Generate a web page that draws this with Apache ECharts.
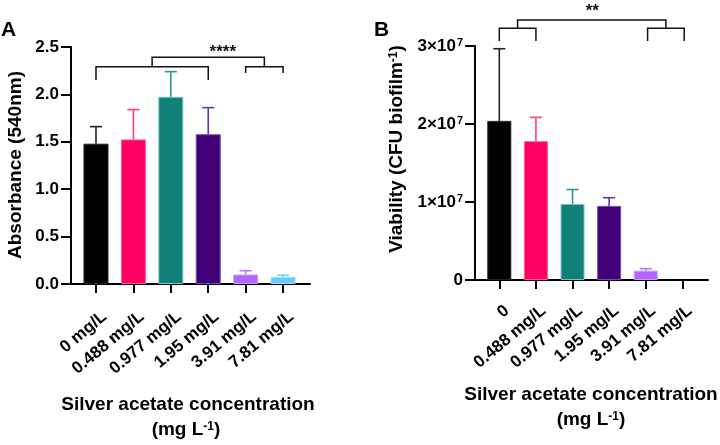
<!DOCTYPE html>
<html>
<head>
<meta charset="utf-8">
<script src="https://cdn.jsdelivr.net/npm/echarts@6/dist/echarts.min.js"></script>
<style>
  html, body { margin: 0; padding: 0; background: #fff; }
  #chart { width: 720px; height: 445px; }
</style>
</head>
<body>
<div id="chart"></div>
<script>
// categories
const catsA = ['0 mg/L', '0.488 mg/L', '0.977 mg/L', '1.95 mg/L', '3.91 mg/L', '7.81 mg/L']
const catsB = ['0', '0.488 mg/L', '0.977 mg/L', '1.95 mg/L', '3.91 mg/L', '7.81 mg/L']

// panel A: absorbance (540nm), mean and upper SD
const absMean = [1.48, 1.525, 1.975, 1.58, 0.10, 0.075]
const absSd = [0.18, 0.315, 0.265, 0.28, 0.04, 0.018]

// panel B: viability (CFU per biofilm)
const cfuMean = [2.04e7, 1.78e7, 0.975e7, 0.95e7, 0.12e7, 0]
const cfuSd = [0.925e7, 0.305e7, 0.185e7, 0.105e7, 0.025e7, 0]

// significance brackets: [x1, x2, top, leg1 bottom, leg2 bottom]
const bracketsA = [[0, 3, 2.292, 2.152, 2.152], [4, 5, 2.292, 2.226, 2.226], [1.5, 4.5, 2.391, 2.292, 2.292]]
const starsA = [[3.39, 2.44, '****']]
const bracketsB = [[0, 1, 3.227e7, 3.064e7, 3.064e7], [4.05, 5.05, 3.227e7, 3.064e7, 3.064e7], [0.5, 4.55, 3.333e7, 3.227e7, 3.227e7]]
const starsB = [[2.54, 3.45e7, '**']]

const tickPos = [0, 1, 2, 3, 4, 5]

const colors = ['#000000', '#ff0066', '#118079', '#420078', '#b266ff', '#66ccff']
const edges = ['#222222', '#ff5c99', '#7cc4bf', '#7a4cb0', '#c99cff', '#9bdcff']
const errColors = ['#222222', '#ff3d86', '#2c9690', '#6633a0', '#b57aff', '#7fd0ff']

const font = "'Liberation Sans', Arial, sans-serif"

const chart = echarts.init(document.getElementById('chart'))

function barData (vals) {
  return vals.map((v, i) => ({
    value: [i, v],
    itemStyle: { color: colors[i], borderColor: edges[i], borderWidth: v > 0 ? 1 : 0 }
  }))
}

function errData (mean, sd) {
  return mean.map((m, i) => [i, m, m + sd[i]])
}

function renderErr (params, api) {
  const i = api.value(0)
  const base = api.coord([i, api.value(1)])
  const top = api.coord([i, api.value(2)])
  if (base[1] - top[1] < 0.5) return null
  const c = errColors[i]
  const style = { stroke: c, lineWidth: 1.6, fill: null }
  return {
    type: 'group',
    children: [
      { type: 'line', shape: { x1: base[0], y1: base[1], x2: top[0], y2: top[1] }, style },
      { type: 'line', shape: { x1: top[0] - 6, y1: top[1], x2: top[0] + 6, y2: top[1] }, style }
    ]
  }
}

function renderBracket (params, api) {
  const a = api.coord([api.value(0), api.value(3)])
  const b = api.coord([api.value(0), api.value(2)])
  const c = api.coord([api.value(1), api.value(2)])
  const d = api.coord([api.value(1), api.value(4)])
  return {
    type: 'polyline',
    shape: { points: [a, b, c, d] },
    style: { stroke: '#111', lineWidth: 1.5, fill: null }
  }
}

function renderStars (params, api) {
  const p = api.coord([api.value(0), api.value(1)])
  return {
    type: 'text',
    x: p[0],
    y: p[1],
    style: {
      text: api.value(2),
      fontSize: 17,
      fontWeight: 'bold',
      fontFamily: font,
      fill: '#111',
      align: 'center',
      verticalAlign: 'middle'
    }
  }
}

function xAxisOf (grid, cats, min, max, shift, margin) {
  return {
    type: 'value',
    gridIndex: grid,
    min: min,
    max: max,
    splitLine: { show: false },
    axisLine: { show: true, onZero: false, lineStyle: { color: '#000', width: 2 } },
    axisTick: { show: true, customValues: tickPos, length: 9, lineStyle: { color: '#000', width: 2 } },
    axisLabel: {
      show: true,
      customValues: tickPos.map(t => t + shift),
      formatter: v => cats[Math.round(v - shift)],
      rotate: 40,
      align: 'right',
      verticalAlign: 'top',
      margin: margin,
      fontSize: 17,
      fontWeight: 'bold',
      fontFamily: font,
      color: '#000'
    }
  }
}

const yCommon = {
  type: 'value',
  splitLine: { show: false },
  axisLine: { show: true, onZero: false, lineStyle: { color: '#000', width: 2 } },
  axisTick: { show: true, length: 10, lineStyle: { color: '#000', width: 2 } }
}

const option = {
  animation: false,
  backgroundColor: '#fff',
  grid: [
    { left: 71, top: 47, width: 239, height: 237 },
    { left: 475, top: 46, width: 233, height: 234 }
  ],
  xAxis: [
    xAxisOf(0, catsA, -0.668, 5.72, 0.08, 24),
    xAxisOf(1, catsB, -0.664, 5.70, 0.06, 22)
  ],
  yAxis: [
    Object.assign({}, yCommon, {
      gridIndex: 0, min: 0, max: 2.5, interval: 0.5,
      axisLabel: {
        margin: 12, fontSize: 17, fontWeight: 'bold', fontFamily: font, color: '#000',
        formatter: v => v.toFixed(1)
      }
    }),
    Object.assign({}, yCommon, {
      gridIndex: 1, min: 0, max: 3e7, interval: 1e7,
      axisLabel: {
        margin: 12, fontSize: 17, fontWeight: 'bold', fontFamily: font, color: '#000',
        formatter: v => v === 0 ? '0' : (v / 1e7) + '×10{sup|7}',
        rich: {
          sup: { fontSize: 11, fontWeight: 'bold', fontFamily: font, color: '#000', verticalAlign: 'top', padding: [0, 0, 6, 1] }
        }
      }
    })
  ],
  series: [
    { type: 'bar', xAxisIndex: 0, yAxisIndex: 0, barWidth: 25, data: barData(absMean) },
    { type: 'custom', xAxisIndex: 0, yAxisIndex: 0, clip: false, renderItem: renderErr, data: errData(absMean, absSd), z: 1 },
    { type: 'custom', xAxisIndex: 0, yAxisIndex: 0, clip: false, renderItem: renderBracket, data: bracketsA },
    { type: 'custom', xAxisIndex: 0, yAxisIndex: 0, clip: false, renderItem: renderStars, data: starsA },
    { type: 'bar', xAxisIndex: 1, yAxisIndex: 1, barWidth: 24, data: barData(cfuMean) },
    { type: 'custom', xAxisIndex: 1, yAxisIndex: 1, clip: false, renderItem: renderErr, data: errData(cfuMean, cfuSd), z: 1 },
    { type: 'custom', xAxisIndex: 1, yAxisIndex: 1, clip: false, renderItem: renderBracket, data: bracketsB },
    { type: 'custom', xAxisIndex: 1, yAxisIndex: 1, clip: false, renderItem: renderStars, data: starsB }
  ],
  graphic: [
    { type: 'text', left: 1, top: 20, style: { text: 'A', fontSize: 21, fontWeight: 'bold', fontFamily: font, fill: '#000' } },
    { type: 'text', left: 374, top: 20, style: { text: 'B', fontSize: 21, fontWeight: 'bold', fontFamily: font, fill: '#000' } },
    {
      type: 'text', x: 16, y: 165, rotation: Math.PI / 2,
      style: { text: 'Absorbance (540nm)', fontSize: 19, fontWeight: 'bold', fontFamily: font, fill: '#000', align: 'center', verticalAlign: 'middle' }
    },
    {
      type: 'text', x: 397, y: 149, rotation: Math.PI / 2,
      style: {
        text: 'Viability (CFU biofilm{sup|-1})', fontSize: 19, fontWeight: 'bold', fontFamily: font, fill: '#000', align: 'center', verticalAlign: 'middle',
        rich: { sup: { fontSize: 12, fontWeight: 'bold', fontFamily: font, fill: '#000', verticalAlign: 'top' } }
      }
    },
    { type: 'text', x: 188, y: 405, style: { text: 'Silver acetate concentration', fontSize: 19, fontWeight: 'bold', fontFamily: font, fill: '#000', align: 'center', verticalAlign: 'middle' } },
    {
      type: 'text', x: 186, y: 430,
      style: {
        text: '(mg L{sup|-1})', fontSize: 19, fontWeight: 'bold', fontFamily: font, fill: '#000', align: 'center', verticalAlign: 'middle',
        rich: { sup: { fontSize: 12, fontWeight: 'bold', fontFamily: font, fill: '#000', verticalAlign: 'top' } }
      }
    },
    { type: 'text', x: 591, y: 395, style: { text: 'Silver acetate concentration', fontSize: 19, fontWeight: 'bold', fontFamily: font, fill: '#000', align: 'center', verticalAlign: 'middle' } },
    {
      type: 'text', x: 591, y: 420,
      style: {
        text: '(mg L{sup|-1})', fontSize: 19, fontWeight: 'bold', fontFamily: font, fill: '#000', align: 'center', verticalAlign: 'middle',
        rich: { sup: { fontSize: 12, fontWeight: 'bold', fontFamily: font, fill: '#000', verticalAlign: 'top' } }
      }
    }
  ]
}

chart.setOption(option)
</script>
</body>
</html>
